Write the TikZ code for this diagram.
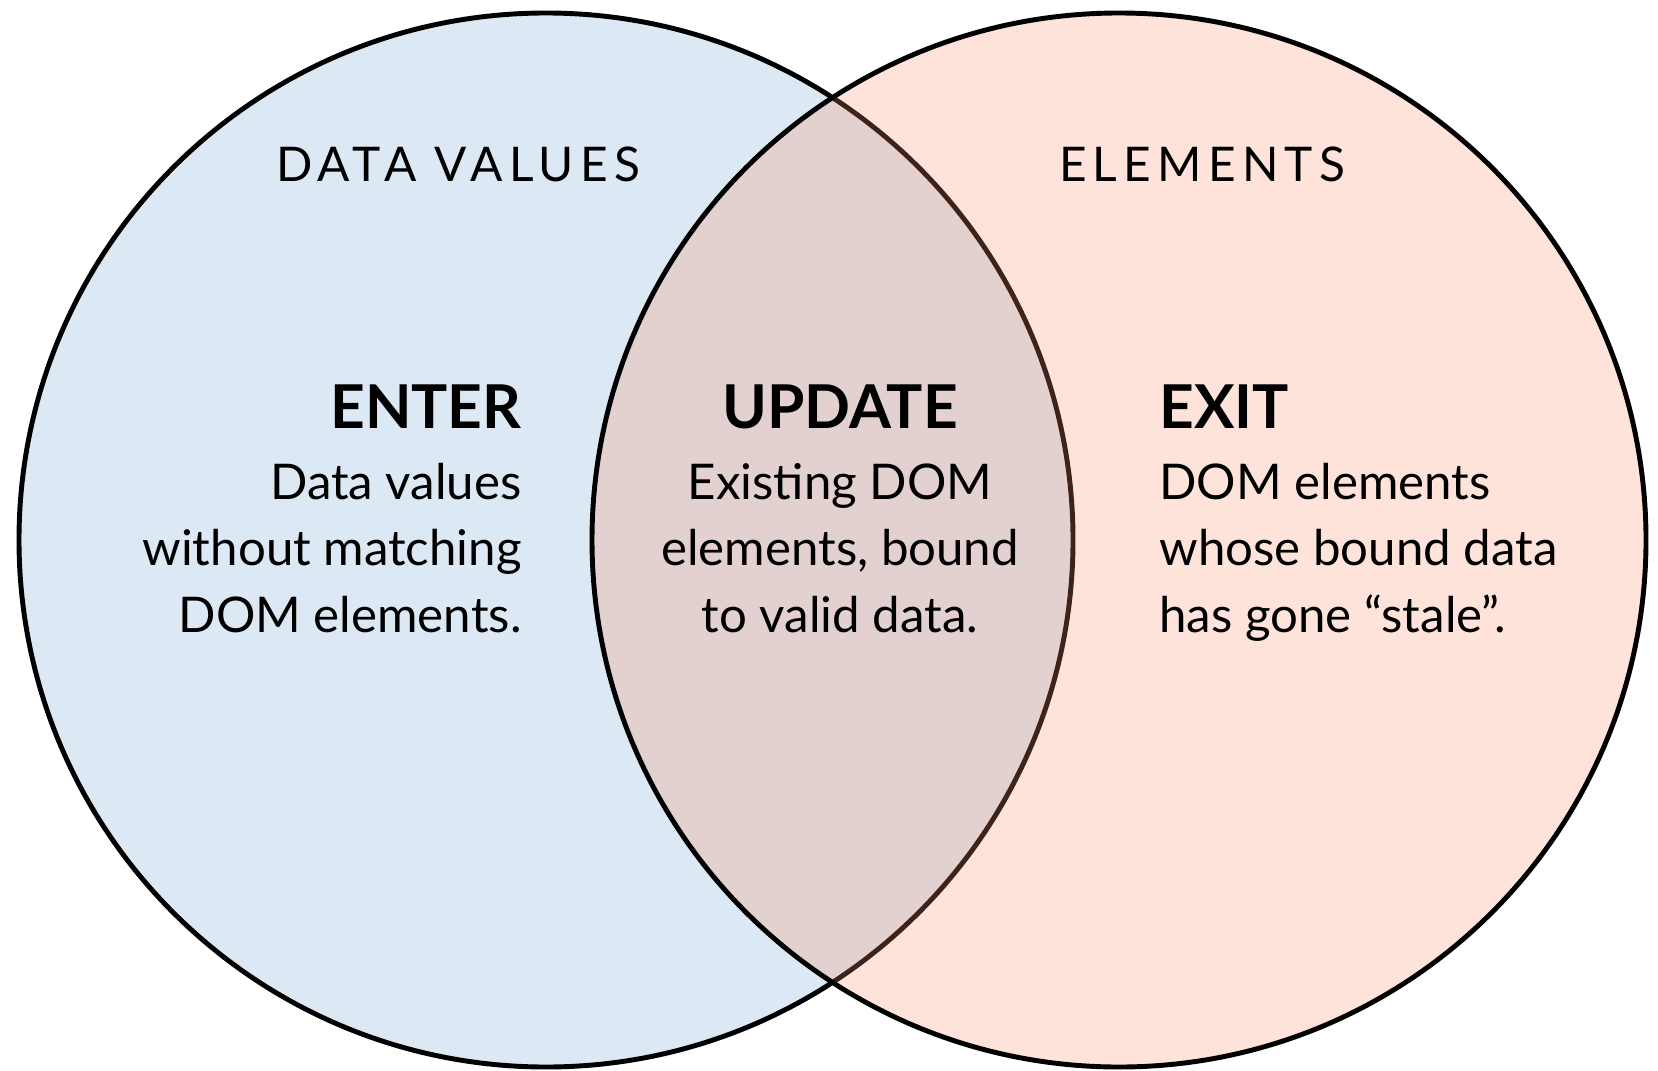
\documentclass[tikz,border=0pt]{standalone}
\usepackage{fontspec}
\setmainfont{Lato}
\newfontfamily\capsfont[LetterSpace=13]{Lato}
\usetikzlibrary{positioning}
\definecolor{datablue}{RGB}{220,232,243}
\definecolor{elemorange}{RGB}{247,143,103}
\tikzset{
  every path/.style={
    line width=1.4pt
  },
  setcircle/.style={
    draw=black
  },
  heading/.style={
    font=\capsfont\fontsize{13.6}{16}\selectfont,
    inner sep=0pt
  },
  title/.style={
    font=\bfseries\fontsize{17.2}{20}\selectfont,
    inner sep=0pt
  },
  blurb/.style={
    font=\fontsize{14}{18.9}\selectfont,
    inner sep=0pt
  }
}

\begin{document}
\begin{tikzpicture}
\useasboundingbox (0,0) rectangle (16.58,10.70);
% the two sets
\filldraw[setcircle, fill=datablue] (5.46,5.30) circle (5.27);
\filldraw[setcircle, fill=elemorange, fill opacity=0.25] (11.19,5.30) circle (5.27);
% set names
\node[heading, anchor=base] (datahead) at (4.58,8.88) {DATA VALUES};
\node[heading, anchor=base] (elemhead) at (12.02,8.88) {ELEMENTS};
% the three selections
\node[title, anchor=base east] (enter) at (5.24,6.42) {ENTER};
\node[title, anchor=base] (update) at (8.40,6.42) {UPDATE};
\node[title, anchor=base west] (exit) at (11.57,6.42) {EXIT};
% base of a blurb is its last line
\node[blurb, align=right, anchor=base east] (enterblurb) at (5.24,4.38)
  {Data values\\without matching\\DOM elements.};
\node[blurb, align=center, anchor=base] (updateblurb) at (8.40,4.38)
  {Existing DOM\\elements, bound\\to valid data.};
\node[blurb, align=left, anchor=base west] (exitblurb) at (11.57,4.38)
  {DOM elements\\whose bound data\\has gone “stale”.};
\end{tikzpicture}
\end{document}
